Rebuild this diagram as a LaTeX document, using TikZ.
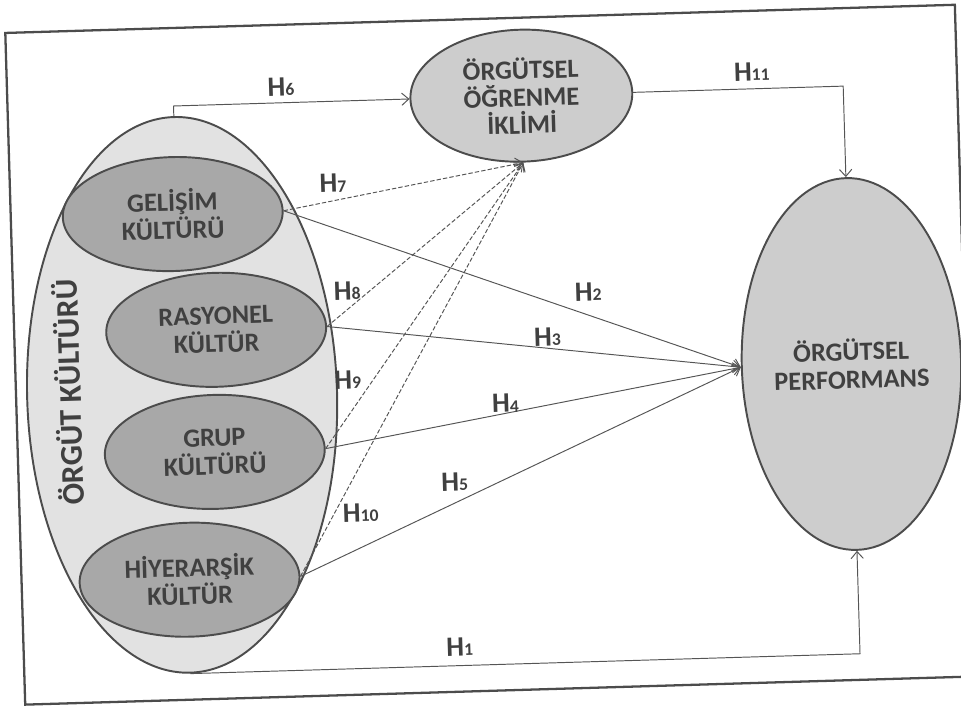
\documentclass[tikz,border=0pt]{standalone}
\usepackage{fontspec}
\setmainfont{Carlito}
\usetikzlibrary{shapes.geometric,arrows.meta}
\definecolor{edgec}{HTML}{4C4C4C}
\definecolor{txtc}{HTML}{404040}
\definecolor{innerfill}{HTML}{A8A8A8}
\definecolor{outerfill}{HTML}{E2E2E2}
\definecolor{midfill}{HTML}{CDCDCD}
\definecolor{linec}{HTML}{555555}
\newcommand\hyplabel[1]{H{\fontsize{10}{11}\selectfont #1}}
\begin{document}
\begin{tikzpicture}[x=0.02cm,y=-0.02cm,
  every node/.style={font=\bfseries\fontsize{15}{16}\selectfont, text=txtc},
  ell/.style={ellipse, draw=edgec, line width=1.1pt, inner sep=0pt, align=center},
  innerell/.style={ell, fill=innerfill, minimum width=4.4cm, minimum height=2.28cm},
  midell/.style={ell, fill=midfill},
  hyp/.style={inner sep=1pt, font=\bfseries\fontsize{16}{17}\selectfont},
  conn/.style={draw=linec, line width=0.55pt, -{Straight Barb[length=4pt,width=7pt]}},
  dconn/.style={conn, dash pattern=on 2.5pt off 1.2pt},
]
\useasboundingbox (0,0) rectangle (961,707);
\begin{scope}[rotate around={1.7:(480,354)}, transform shape]
  \draw[edgec, line width=1.3pt] (15,19) rectangle (965,691);

  \node[ell, fill=outerfill, minimum width=6.2cm, minimum height=11.12cm] (outer) at (181,386) {};
  \node[rotate=90, font=\bfseries\fontsize{18}{20}\selectfont, inner sep=0pt] (otitle) at (67,380) {ÖRGÜT KÜLTÜRÜ};

  \node[innerell] (gel) at (177,205) {GELİŞİM\\KÜLTÜRÜ};
  \node[innerell] (ras) at (217,322) {RASYONEL\\KÜLTÜR};
  \node[innerell] (grp) at (212,444) {GRUP\\KÜLTÜRÜ};
  \node[innerell] (hiy) at (183,571) {HİYERARŞİK\\KÜLTÜR};

  \node[midell, minimum width=4.44cm, minimum height=2.64cm, font=\bfseries\fontsize{15}{15.5}\selectfont] (learn) at (529,97) {ÖRGÜTSEL\\ÖĞRENME\\İKLİMİ};
  \node[midell, minimum width=3.64cm, minimum height=7.44cm] (perf) at (851,375) {ÖRGÜTSEL\\PERFORMANS};

  \draw[conn] (outer.north) |- (learn.west);
  \draw[conn] (learn.east) -| (perf.north);
  \draw[conn] (outer.south) -| (perf.south);

  \draw[dconn] (gel.east) -- (learn.south);
  \draw[dconn] (ras.east) -- (learn.south);
  \draw[dconn] (grp.east) -- (learn.south);
  \draw[dconn] (hiy.east) -- (learn.south);

  \draw[conn] (gel.east) -- (perf.west);
  \draw[conn] (ras.east) -- (perf.west);
  \draw[conn] (grp.east) -- (perf.west);
  \draw[conn] (hiy.east) -- (perf.west);

  \node[hyp] (h1) at (451,646) {\hyplabel{1}};
  \node[hyp] (h2) at (590,295) {\hyplabel{2}};
  \node[hyp] (h3) at (548,339) {\hyplabel{3}};
  \node[hyp] (h4) at (504,404) {\hyplabel{4}};
  \node[hyp] (h5) at (451,481) {\hyplabel{5}};
  \node[hyp] (h6) at (289,81) {\hyplabel{6}};
  \node[hyp] (h7) at (338,179) {\hyplabel{7}};
  \node[hyp] (h8) at (349,287) {\hyplabel{8}};
  \node[hyp] (h9) at (347,376) {\hyplabel{9}};
  \node[hyp] (h10) at (356,509) {\hyplabel{10}};
  \node[hyp] (h11) at (760,80) {\hyplabel{11}};
\end{scope}
\end{tikzpicture}
\end{document}
